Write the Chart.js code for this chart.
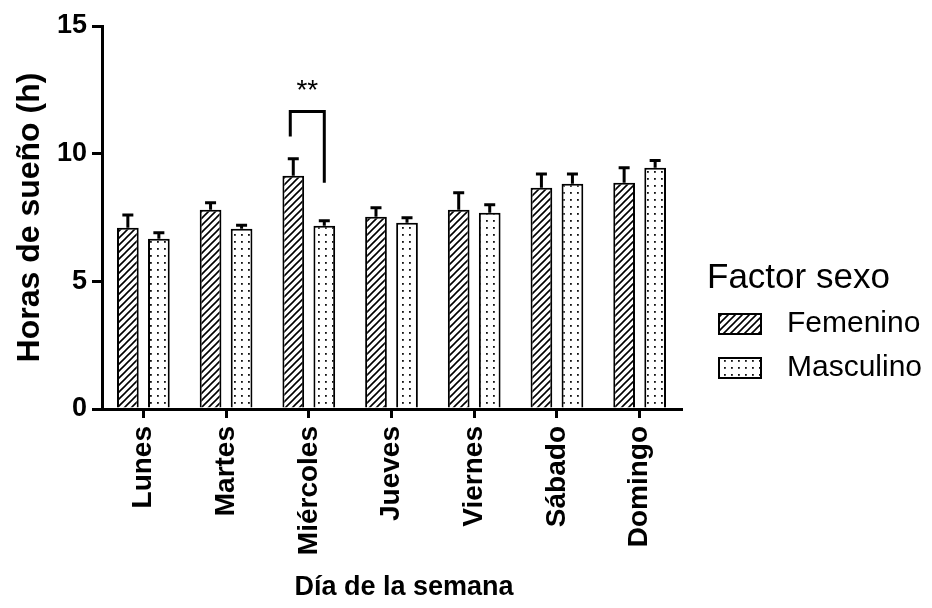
<!DOCTYPE html>
<html>
  <head>
    <title>Horas de sueño</title>
    <script src="https://cdn.jsdelivr.net/npm/chart.js"></script>
    <style>
      body { margin: 0; background: #fff; }
    </style>
  </head>
  <body>
    <canvas id="sleepChart" width="932" height="608"></canvas>

    <script>
      // data
      const days = ['Lunes', 'Martes', 'Miércoles', 'Jueves', 'Viernes', 'Sábado', 'Domingo'];
      const femenino = [7.1, 7.8, 9.14, 7.53, 7.8, 8.67, 8.86];
      const femeninoSem = [0.5, 0.28, 0.66, 0.35, 0.67, 0.53, 0.59];
      const masculino = [6.67, 7.06, 7.18, 7.29, 7.69, 8.82, 9.45];
      const masculinoSem = [0.23, 0.14, 0.19, 0.2, 0.31, 0.38, 0.28];
      const yTicks = [0, 5, 10, 15];
      // significance bracket over Miércoles (values in hours)
      const sigDay = 2;
      const sigTop = 11.65;
      const sigLeftEnd = 10.67;
      const sigRightEnd = 8.86;
      const sigText = '**';

      const FONT = "'Liberation Sans', Arial, Helvetica, sans-serif";

      function hatchPattern() {
        const c = document.createElement('canvas');
        c.width = 7; c.height = 7;
        const g = c.getContext('2d');
        g.fillStyle = '#fff';
        g.fillRect(0, 0, 7, 7);
        g.strokeStyle = '#000';
        g.lineWidth = 1.6;
        g.beginPath();
        g.moveTo(-1, 8); g.lineTo(8, -1);
        g.moveTo(-8, 8); g.lineTo(1, -1);
        g.moveTo(6, 8); g.lineTo(15, -1);
        g.stroke();
        return g.createPattern(c, 'repeat');
      }

      function dotPattern() {
        const c = document.createElement('canvas');
        c.width = 7; c.height = 7;
        const g = c.getContext('2d');
        g.fillStyle = '#fff';
        g.fillRect(0, 0, 7, 7);
        g.fillStyle = '#111';
        g.fillRect(3, 3, 1.8, 1.8);
        return g.createPattern(c, 'repeat');
      }

      const errorBars = {
        id: 'errorBars',
        afterDatasetsDraw(chart) {
          const ctx = chart.ctx;
          const y = chart.scales.y;
          ctx.save();
          ctx.strokeStyle = '#000';
          ctx.lineWidth = 3;
          chart.data.datasets.forEach((ds, i) => {
            const meta = chart.getDatasetMeta(i);
            meta.data.forEach((bar, j) => {
              const top = y.getPixelForValue(ds.data[j] + ds.sem[j]);
              ctx.beginPath();
              ctx.moveTo(bar.x, bar.y);
              ctx.lineTo(bar.x, top);
              ctx.moveTo(bar.x - 5.5, top);
              ctx.lineTo(bar.x + 5.5, top);
              ctx.stroke();
            });
          });

          // bracket + stars
          const a = chart.getDatasetMeta(0).data[sigDay];
          const b = chart.getDatasetMeta(1).data[sigDay];
          const yt = y.getPixelForValue(sigTop);
          ctx.beginPath();
          ctx.moveTo(a.x - 3, y.getPixelForValue(sigLeftEnd));
          ctx.lineTo(a.x - 3, yt);
          ctx.lineTo(b.x, yt);
          ctx.lineTo(b.x, y.getPixelForValue(sigRightEnd));
          ctx.stroke();
          ctx.fillStyle = '#000';
          ctx.font = '28px ' + FONT;
          ctx.textAlign = 'center';
          ctx.textBaseline = 'middle';
          ctx.fillText(sigText, (a.x - 3 + b.x) / 2, yt - 20);
          ctx.restore();
        }
      };

      const sideLegend = {
        id: 'sideLegend',
        afterDraw(chart) {
          const ctx = chart.ctx;
          ctx.save();
          ctx.fillStyle = '#000';

          // x axis title (sits a little right of the plot centre in the original)
          ctx.textAlign = 'center';
          ctx.textBaseline = 'alphabetic';
          ctx.font = 'bold 27px ' + FONT;
          ctx.fillText('Día de la semana', 404, 595);

          ctx.textAlign = 'left';
          ctx.font = '35px ' + FONT;
          ctx.fillText('Factor sexo', 707, 288);
          ctx.font = '30px ' + FONT;
          ctx.textBaseline = 'middle';
          chart.data.datasets.forEach((ds, i) => {
            const cy = 324 + i * 44;
            ctx.fillStyle = ds.backgroundColor;
            ctx.fillRect(719, cy - 10, 42, 20);
            ctx.strokeStyle = '#000';
            ctx.lineWidth = 2;
            ctx.strokeRect(719, cy - 10, 42, 20);
            ctx.fillStyle = '#000';
            ctx.fillText(ds.label, 787, cy);
          });
          ctx.restore();
        }
      };

      const ctx = document.getElementById('sleepChart').getContext('2d');
      new Chart(ctx, {
        type: 'bar',
        data: {
          labels: days,
          datasets: [{
            label: 'Femenino',
            data: femenino,
            sem: femeninoSem,
            backgroundColor: hatchPattern(),
            borderColor: '#000',
            borderWidth: 2
          }, {
            label: 'Masculino',
            data: masculino,
            sem: masculinoSem,
            backgroundColor: dotPattern(),
            borderColor: '#000',
            borderWidth: 2
          }]
        },
        options: {
          responsive: false,
          animation: false,
          categoryPercentage: 0.75,
          barPercentage: 0.7,
          layout: { padding: { top: 26, right: 251, left: 0, bottom: 0 } },
          plugins: {
            legend: { display: false },
            tooltip: { enabled: false }
          },
          scales: {
            x: {
              offset: true,
              grid: { offset: false, drawOnChartArea: false, drawTicks: true, tickLength: 9, color: '#000', lineWidth: 3 },
              border: { display: true, color: '#000', width: 3 },
              ticks: {
                color: '#000', minRotation: 90, maxRotation: 90, padding: 8,
                font: { family: FONT, size: 28, weight: 'bold' }
              },
              afterFit(scale) { scale.height = 199; }
            },
            y: {
              min: 0, max: 15,
              afterBuildTicks(scale) { scale.ticks = yTicks.map(v => ({ value: v })); },
              grid: { drawOnChartArea: false, drawTicks: true, tickLength: 10, color: '#000', lineWidth: 3 },
              border: { display: true, color: '#000', width: 3 },
              ticks: {
                color: '#000', padding: 5,
                font: { family: FONT, size: 27, weight: 'bold' }
              },
              title: {
                display: true, text: 'Horas de sueño (h)', color: '#000',
                padding: { top: 11, bottom: 0 },
                font: { family: FONT, size: 32, weight: 'bold' }
              },
              afterFit(scale) { scale.width = 102; }
            }
          }
        },
        plugins: [errorBars, sideLegend]
      });
    </script>
  </body>
</html>
